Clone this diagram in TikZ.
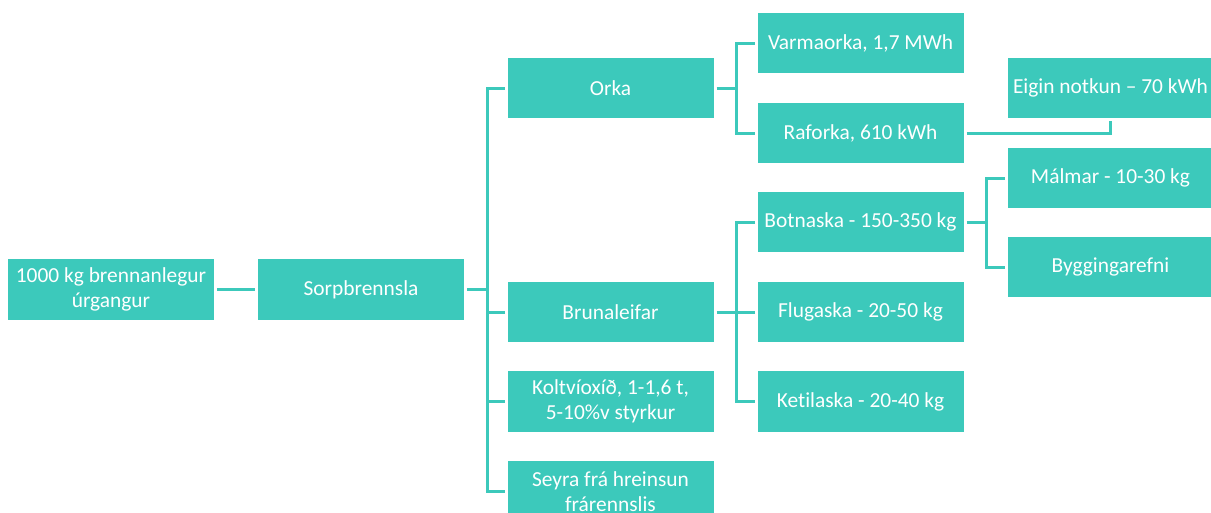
\documentclass[tikz,border=0pt]{standalone}
\usepackage{fontspec}
\setmainfont{Carlito}[Ligatures={NoCommon}]
\definecolor{teal1}{HTML}{3CC9BB}
\begin{document}
\begin{tikzpicture}[x=1pt,y=-1pt,
  box/.style={fill=teal1,text=white,minimum width=206pt,minimum height=61pt,
    inner sep=0pt,outer sep=3pt,align=center,
    font=\fontsize{21.4}{24.5}\selectfont},
  conn/.style={draw=teal1,line width=3pt}]
\useasboundingbox (0,0) rectangle (1211,512);
\node[box] (A) at (111,289.5) {1000 kg brennanlegur\\úrgangur};
\node[box] (S) at (361,289.5) {Sorpbrennsla};
\node[box,minimum height=60pt] (Orka) at (610.5,88) {Orka};
\node[box,minimum height=60pt] (Bruna) at (610.5,312) {Brunaleifar};
\node[box] (Kolt) at (610.5,401.5) {Koltvíoxíð, 1-1,6 t,\\5-10\%v styrkur};
\node[box] (Seyra) at (610.5,491.5) {Seyra frá hreinsun\\frárennslis};
\node[box,minimum height=60pt] (Varma) at (860.5,43) {Varmaorka, 1,7 MWh};
\node[box,minimum height=60pt] (Raf) at (860.5,133) {Raforka, 610 kWh};
\node[box,minimum height=60pt] (Botn) at (860.5,222) {Botnaska - 150-350 kg};
\node[box,minimum height=60pt] (Fluga) at (860.5,312) {Flugaska - 20-50 kg};
\node[box] (Ketil) at (860.5,401.5) {Ketilaska - 20-40 kg};
\node[box,minimum height=60pt] (Eigin) at (1110.5,88) {Eigin notkun -- 70 kWh};
\node[box,minimum height=60pt] (Malm) at (1110.5,178) {Málmar - 10-30 kg};
\node[box,minimum height=60pt] (Bygg) at (1110.5,267) {Byggingarefni};
\coordinate (b1) at (487,0);
\coordinate (b2) at (736,0);
\coordinate (b3) at (986,0);
% A - S
\draw[conn] (A.east) -- (A.east -| S.west);
% S - column 2
\draw[conn] (S.east) -- (S.east -| b1);
\draw[conn,line cap=rect] (Orka.west -| b1) -- (Seyra.west -| b1);
\draw[conn] (Orka.west -| b1) -- (Orka.west);
\draw[conn] (Bruna.west -| b1) -- (Bruna.west);
\draw[conn] (Kolt.west -| b1) -- (Kolt.west);
\draw[conn] (Seyra.west -| b1) -- (Seyra.west);
% Orka children
\draw[conn] (Orka.east) -- (Orka.east -| b2);
\draw[conn,line cap=rect] (Varma.west -| b2) -- (Raf.west -| b2);
\draw[conn] (Varma.west -| b2) -- (Varma.west);
\draw[conn] (Raf.west -| b2) -- (Raf.west);
% Raforka - Eigin
\draw[conn] (Raf.east) -| (Eigin.south);
% Bruna children
\draw[conn] (Bruna.east) -- (Bruna.east -| b2);
\draw[conn,line cap=rect] (Botn.west -| b2) -- (Ketil.west -| b2);
\draw[conn] (Botn.west -| b2) -- (Botn.west);
\draw[conn] (Fluga.west -| b2) -- (Fluga.west);
\draw[conn] (Ketil.west -| b2) -- (Ketil.west);
% Botnaska children
\draw[conn] (Botn.east) -- (Botn.east -| b3);
\draw[conn,line cap=rect] (Malm.west -| b3) -- (Bygg.west -| b3);
\draw[conn] (Malm.west -| b3) -- (Malm.west);
\draw[conn] (Bygg.west -| b3) -- (Bygg.west);
\end{tikzpicture}
\end{document}
